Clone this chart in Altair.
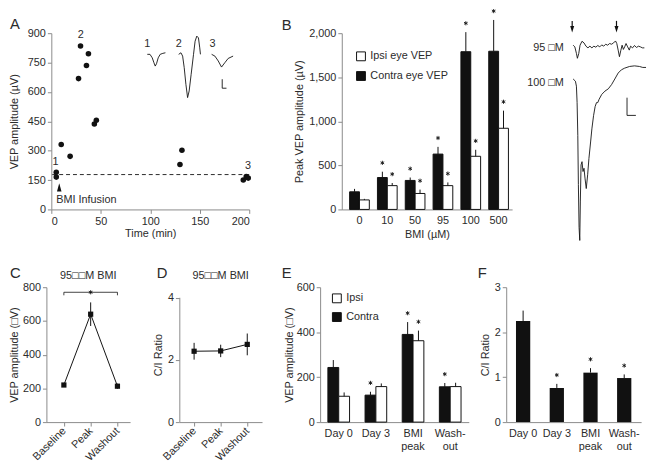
import altair as alt
import pandas as pd

FONT = "Liberation Sans"
INK = "#111111"
AXC = "#8a8a8a"
TXT = "#2b2b2b"
MU = "\u00b5"
BOX = "\u25a1"
STAR = "M0,-1L0,1M-0.87,-0.5L0.87,0.5M-0.87,0.5L0.87,-0.5"

# ---------------- Panel A data ----------------
a_time = [5, 5, 10, 19, 27.5, 29.5, 35.5, 37.5, 43.5, 45.5, 130, 132, 194, 197, 199]
a_amp = [190, 165, 332, 271, 668, 835, 735, 795, 436, 455, 229, 302, 150, 168, 160]
a_baseline = [178]
a_lab_text = ["1", "2", "3", "1", "2", "3"]
a_lab_t = [4.3, 29.7, 198.7, 97, 128.7, 163]
a_lab_v = [240, 893, 224, 846, 846, 846]
# inset traces (time-like x, amplitude-like y in panel units)
tr1_t = [97, 99.7, 102, 103.7, 105, 106.3, 108, 110, 112.7, 115.3]
tr1_v = [792, 792, 774, 749, 732, 744, 774, 792, 797, 800]
tr2_t = [128.7, 131, 132.7, 134.3, 136, 137.7, 139.3, 141.3, 143.7, 145.3, 147, 148.7, 150, 150.7]
tr2_v = [792, 800, 783, 724, 639, 571, 605, 690, 792, 859, 885, 876, 825, 792]
tr3_t = [162, 165.3, 168.7, 172, 175.3, 178.7, 183.7]
tr3_v = [792, 783, 758, 727, 749, 771, 783]
scl_t = [172.7, 172.7, 177]
scl_v = [665, 619, 619]
infusion_t = [8]
infusion_v = [113]

# ---------------- Panel B data ----------------
b_conc = ["0", "10", "50", "95", "100", "500"]
b_contra = [200, 362, 329, 628, 1790, 1795]
b_contra_err = [33, 66, 33, 82, 222, 355]
b_ipsi = [108, 270, 181, 270, 603, 921]
b_ipsi_err = [12, 30, 44, 36, 74, 200]
b_contra_star = [False, True, True, True, True, True]
b_ipsi_star = [False, True, True, True, True, True]

# ---------------- Trace panel data ----------------
t95_t = [0, 1.7, 3.3, 4.3, 5.7, 7, 9, 11, 13, 15, 17, 19, 21, 23, 25, 27, 29, 31, 33, 35, 37, 39,
         41, 43, 44.3, 45.7, 47, 48.3, 49.7, 51, 52.3, 53.7, 55, 57, 58.3, 60.3, 62.3, 64.3, 66.3,
         68.3, 70.3, 72.3]
t95_v = [0, -1.7, -8.3, -13.3, -8.3, 0, 4, 2.3, -1, -2.7, -1, -2.7, -1, -2, -0.3, -1.7, 0.3, -1, 1,
         0, 1.7, 1, 2.3, 4.3, 1.7, -5, -11.7, -5.7, 0, -4.3, -1.7, 1.7, -1, -5, -1, -2.7, -0.3,
         -2.3, -1, -1.7, -2.7, -2.7]
t100_t = [0, 2.3, 3.3, 4, 4.7, 5.3, 6, 6.7, 7.3, 8, 9, 10, 11, 12, 13.3, 14.7, 16, 17.7, 19, 20.7,
          22.3, 23.7, 25, 26.3, 29, 32.3, 35.7, 39, 42.3, 45.7, 49, 52.3, 57.3, 62.3, 67.3, 70.7, 74]
t100_v = [0, -2.3, -7.3, -24, -57.3, -107.3, -150.7, -164, -124, -87.3, -84, -94, -90.7, -100.7,
          -111.3, -97.3, -80.7, -64, -50.7, -37.3, -28, -24, -24, -20.7, -15.7, -12.3, -10, -5.7,
          0, 6, 9.3, 11, 12.7, 13.3, 12.7, 11.7, 11.7]
trace_offsets = {"95": 166.8, "100": 132.5}
stim_t = [-1, 44]
t_scale_t = [54.7, 54.7, 63.7]
t_scale_v = [113.5, 95.5, 95.5]

# ---------------- Panel C / D data ----------------
cd_cond = ["Baseline", "Peak", "Washout"]
c_vals = [220, 640, 213]
c_err = [10, 70, 15]
c_ticks = [0, 200, 400, 600, 800]
d_vals = [2.28, 2.29, 2.5]
d_err = [0.27, 0.2, 0.35]

# ---------------- Panel E / F data ----------------
ef_cats = ["Day 0", "Day 3", "BMI peak", "Wash-out"]
e_contra = [243, 120, 390, 157]
e_contra_err = [33, 15, 55, 17]
e_ipsi = [115, 158, 362, 158]
e_ipsi_err = [17, 14, 45, 17]
e_contra_star = [False, True, True, True]
e_ipsi_star = [False, False, True, False]
f_ratio = [2.25, 0.76, 1.10, 0.98]
f_err = [0.23, 0.09, 0.10, 0.08]
f_star = [False, True, True, True]


def letter(s, x, y):
    return alt.Chart(pd.DataFrame({"s": [s]})).mark_text(
        fontSize=15, font=FONT, color=TXT, align="left", baseline="alphabetic"
    ).encode(text="s:N", x=alt.value(x), y=alt.value(y))


def note(s, x, y, size=11):
    return alt.Chart(pd.DataFrame({"s": [s]})).mark_text(
        fontSize=size, font=FONT, color=TXT, align="center", baseline="middle"
    ).encode(text="s:N", x=alt.value(x), y=alt.value(y))


def star_mark(off=-9):
    return dict(shape=STAR, filled=False, stroke=INK, strokeWidth=0.9, size=18,
                opacity=1, yOffset=off)


def yenc(field, domain, axis):
    return alt.Y(field, scale=alt.Scale(domain=domain, nice=False), axis=axis)


# ================= Panel A =================
XA = alt.X("t:Q", scale=alt.Scale(domain=[0, 200], nice=False),
           axis=alt.Axis(values=[0, 50, 100, 150, 200], title="Time (min)", titlePadding=2))
YA = alt.Y("v:Q", scale=alt.Scale(domain=[0, 900], nice=False),
           axis=alt.Axis(values=[0, 150, 300, 450, 600, 750, 900], title=f"VEP amplitude ({MU}V)",
                         titleX=-37, titleBaseline="middle"))

a_pts = alt.Chart(pd.DataFrame({"t": a_time, "v": a_amp})).mark_circle(
    size=32, color=INK, opacity=1).encode(XA, YA)
a_dash = alt.Chart(pd.DataFrame({"v": a_baseline})).mark_rule(
    strokeDash=[4, 3], color=INK, strokeWidth=0.9).encode(YA)
rows = []
for name, ts, vs in [("tr1", tr1_t, tr1_v), ("tr2", tr2_t, tr2_v), ("tr3", tr3_t, tr3_v),
                     ("scl", scl_t, scl_v)]:
    for i, (t, v) in enumerate(zip(ts, vs)):
        rows.append({"id": name, "i": i, "t": t, "v": v})
a_traces = alt.Chart(pd.DataFrame(rows)).mark_line(color=INK, strokeWidth=0.9).encode(
    XA, YA, detail="id:N", order="i:Q")
a_labels = alt.Chart(pd.DataFrame({"t": a_lab_t, "v": a_lab_v, "s": a_lab_text})).mark_text(
    fontSize=11, font=FONT, color=TXT).encode(XA, YA, text="s:N")
a_arrow = alt.Chart(pd.DataFrame({"t": infusion_t, "v": infusion_v})).mark_point(
    shape="M0,-1L0.55,1L-0.55,1Z", filled=True, size=70, color=INK, opacity=1).encode(XA, YA)
a_inf = alt.Chart(pd.DataFrame({"t": [5], "v": [46], "s": ["BMI Infusion"]})).mark_text(
    fontSize=11, font=FONT, color=TXT, align="left", baseline="middle").encode(XA, YA, text="s:N")
panelA = alt.layer(a_dash, a_traces, a_pts, a_labels, a_arrow, a_inf,
                   letter("A", -42, -4)).properties(width=201, height=179)

# ================= Panel B =================
b_rows = []
for i, c in enumerate(b_conc):
    b_rows.append({"conc": c, "eye": "Contra eye VEP", "val": b_contra[i],
                   "top": b_contra[i] + b_contra_err[i], "star": b_contra_star[i]})
    b_rows.append({"conc": c, "eye": "Ipsi eye VEP", "val": b_ipsi[i],
                   "top": b_ipsi[i] + b_ipsi_err[i], "star": b_ipsi_star[i]})
b_df = pd.DataFrame(b_rows)
XB = alt.X("conc:N", sort=b_conc,
           scale=alt.Scale(paddingInner=0.292, paddingOuter=0.207, align=0.68),
           axis=alt.Axis(title=f"BMI ({MU}M)", labelAngle=0, ticks=False, labelPadding=5))
XOB = alt.XOffset("eye:N", scale=alt.Scale(domain=["Contra eye VEP", "Ipsi eye VEP"],
                                           paddingInner=0, paddingOuter=0))
AXB = alt.Axis(values=[0, 500, 1000, 1500, 2000], format=",d",
               title=f"Peak VEP amplitude ({MU}V)", titleX=-42.5, titleBaseline="middle")
YB = yenc("val:Q", [0, 2000], AXB)
b_bars = alt.Chart(b_df).mark_bar(stroke=INK, strokeWidth=1).encode(
    XB, XOB, YB,
    color=alt.Color("eye:N", scale=alt.Scale(domain=["Ipsi eye VEP", "Contra eye VEP"],
                                             range=["#ffffff", INK]),
                    legend=alt.Legend(title=None, orient="none", legendX=14, legendY=18,
                                      symbolType="square", symbolSize=81,
                                      symbolStrokeColor=INK, symbolStrokeWidth=1,
                                      labelFontSize=11, labelFont=FONT, labelColor=TXT,
                                      rowPadding=7, labelOffset=4, padding=0)))
b_err = alt.Chart(b_df).mark_rule(color=INK, strokeWidth=1).encode(
    XB, XOB, YB, y2="top:Q")
b_star = alt.Chart(b_df).transform_filter("datum.star").mark_point(**star_mark()).encode(
    XB, XOB, yenc("top:Q", [0, 2000], AXB))
panelB = alt.layer(b_bars, b_err, b_star, letter("B", -61, -3.5)).properties(width=173, height=179)

# ================= Trace panel =================
t_rows = []
for name, ts, vs in [("95", t95_t, t95_v), ("100", t100_t, t100_v)]:
    for i, (t, v) in enumerate(zip(ts, vs)):
        t_rows.append({"id": name, "i": i, "t": t, "y": v + trace_offsets[name]})
for i, (t, v) in enumerate(zip(t_scale_t, t_scale_v)):
    t_rows.append({"id": "scale", "i": i, "t": t, "y": v})
XT = alt.X("t:Q", scale=alt.Scale(domain=[-48, 74], nice=False), axis=None)
YT = alt.Y("y:Q", scale=alt.Scale(domain=[0, 179], nice=False), axis=None)
t_lines = alt.Chart(pd.DataFrame(t_rows)).mark_line(color=INK, strokeWidth=0.9).encode(
    XT, YT, detail="id:N", order="i:Q")
stim_df = pd.DataFrame({"t": stim_t, "y": [191.5] * len(stim_t), "y2": [183] * len(stim_t)})
t_shaft = alt.Chart(stim_df).mark_rule(color=INK, strokeWidth=1.2).encode(XT, YT, y2="y2:Q")
t_head = alt.Chart(stim_df).mark_point(shape="M-0.6,-1L0.6,-1L0,1Z", filled=True, size=45,
                                       color=INK, opacity=1).encode(
    XT, alt.Y("y2:Q", scale=alt.Scale(domain=[0, 179], nice=False), axis=None))
t_lab = alt.Chart(pd.DataFrame({"t": [-9.5, -9.5], "y": [163.5, 128.5],
                                "s": [f"95 {BOX}M", f"100 {BOX}M"]})).mark_text(
    fontSize=11, font=FONT, color=TXT, align="right", baseline="middle").encode(XT, YT, text="s:N")
panelT = alt.layer(t_lines, t_shaft, t_head, t_lab).properties(width=122, height=179)

# ================= Panel C =================
XC = alt.X("cond:N", sort=cd_cond, scale=alt.Scale(type="point", padding=0.5625, align=0.58),
           axis=alt.Axis(title=None, labelAngle=-45, labelAlign="right", labelBaseline="middle",
                         labelPadding=3))
AXC_Y = alt.Axis(values=c_ticks, title=f"VEP amplitude ({BOX}V)",
                 titleX=-32, titleBaseline="middle", labelOverlap=False)
YC = yenc("v:Q", [0, 800], AXC_Y)
c_df = pd.DataFrame({"cond": cd_cond, "v": c_vals, "lo": [v - e for v, e in zip(c_vals, c_err)],
                     "hi": [v + e for v, e in zip(c_vals, c_err)]})
c_line = alt.Chart(c_df).mark_line(color=INK, strokeWidth=1).encode(XC, YC)
c_err_r = alt.Chart(c_df).mark_rule(color=INK, strokeWidth=1).encode(
    XC, yenc("lo:Q", [0, 800], AXC_Y), y2="hi:Q")
c_pts = alt.Chart(c_df).mark_square(size=28, color=INK, opacity=1).encode(XC, YC)
brk = pd.DataFrame({"cond": ["Baseline", "Baseline", "Washout", "Washout"],
                    "v": [752, 770, 770, 752], "i": [0, 1, 2, 3]})
c_brk = alt.Chart(brk).mark_line(color=INK, strokeWidth=0.8).encode(XC, YC, order="i:Q")
c_star = alt.Chart(pd.DataFrame({"cond": ["Peak"], "v": [770]})).mark_point(
    **star_mark(0)).encode(XC, YC)
panelC = alt.layer(c_line, c_brk, c_err_r, c_pts, c_star,
                   note(f"95{BOX}{BOX}M BMI", 42.5, -11), letter("C", -37, -9)
                   ).properties(width=85, height=137)

# ================= Panel D =================
XD = alt.X("cond:N", sort=cd_cond, scale=alt.Scale(type="point", padding=0.556, align=0.5),
           axis=alt.Axis(title=None, labelAngle=-45, labelAlign="right", labelBaseline="middle",
                         labelPadding=3))
AXD_Y = alt.Axis(values=[0, 2, 4], title="C/I Ratio", domain=False,
                 titleX=-21.3, titleBaseline="middle", labelOverlap=False)
YD = yenc("v:Q", [0, 4.34], AXD_Y)
d_df = pd.DataFrame({"cond": cd_cond, "v": d_vals, "lo": [v - e for v, e in zip(d_vals, d_err)],
                     "hi": [v + e for v, e in zip(d_vals, d_err)]})
d_axis = alt.Chart(pd.DataFrame({"a": [0]})).mark_rule(color=AXC, strokeWidth=1).encode(
    x=alt.value(0.5), y=alt.YDatum(0), y2=alt.Y2Datum(4))
d_line = alt.Chart(d_df).mark_line(color=INK, strokeWidth=1).encode(XD, YD)
d_err_r = alt.Chart(d_df).mark_rule(color=INK, strokeWidth=1).encode(
    XD, yenc("lo:Q", [0, 4.34], AXD_Y), y2="hi:Q")
d_pts = alt.Chart(d_df).mark_square(size=28, color=INK, opacity=1).encode(XD, YD)
panelD = alt.layer(d_line, d_err_r, d_pts, d_axis,
                   note(f"95{BOX}{BOX}M BMI", 42, -11), letter("D", -23, -9)
                   ).properties(width=84, height=137)

# ================= Panel E =================
e_rows = []
for i, c in enumerate(ef_cats):
    e_rows.append({"cat": c, "side": "Contra", "val": e_contra[i],
                   "top": e_contra[i] + e_contra_err[i], "star": e_contra_star[i]})
    e_rows.append({"cat": c, "side": "Ipsi", "val": e_ipsi[i],
                   "top": e_ipsi[i] + e_ipsi_err[i], "star": e_ipsi_star[i]})
e_df = pd.DataFrame(e_rows)
LABEL_EXPR = ("datum.value == 'BMI peak' ? ['BMI', 'peak'] : "
              "datum.value == 'Wash-out' ? ['Wash-', 'out'] : datum.value")
XE = alt.X("cat:N", sort=ef_cats, scale=alt.Scale(paddingInner=0.417, paddingOuter=0.209),
           axis=alt.Axis(title=None, labelAngle=0, ticks=False, labelExpr=LABEL_EXPR,
                         labelLineHeight=13, labelPadding=6))
XOE = alt.XOffset("side:N", scale=alt.Scale(domain=["Contra", "Ipsi"], paddingInner=0,
                                            paddingOuter=0))
AXE_Y = alt.Axis(values=[0, 200, 400, 600], title=f"VEP amplitude ({BOX}V)",
                 titleX=-30.7, titleBaseline="middle")
YE = yenc("val:Q", [0, 600], AXE_Y)
e_bars = alt.Chart(e_df).mark_bar(stroke=INK, strokeWidth=1).encode(
    XE, XOE, YE,
    color=alt.Color("side:N", scale=alt.Scale(domain=["Ipsi", "Contra"], range=["#ffffff", INK]),
                    legend=alt.Legend(title=None, orient="none", legendX=11.5, legendY=5.8,
                                      symbolType="square", symbolSize=81,
                                      symbolStrokeColor=INK, symbolStrokeWidth=1,
                                      labelFontSize=11, labelFont=FONT, labelColor=TXT,
                                      rowPadding=6, labelOffset=4, padding=0)))
e_err = alt.Chart(e_df).mark_rule(color=INK, strokeWidth=1).encode(XE, XOE, YE, y2="top:Q")
e_star = alt.Chart(e_df).transform_filter("datum.star").mark_point(**star_mark()).encode(
    XE, XOE, yenc("top:Q", [0, 600], AXE_Y))
panelE = alt.layer(e_bars, e_err, e_star, letter("E", -39, -9)).properties(width=151, height=137)

# ================= Panel F =================
f_df = pd.DataFrame({"cat": ef_cats, "val": f_ratio,
                     "top": [v + e for v, e in zip(f_ratio, f_err)], "star": f_star})
XF = alt.X("cat:N", sort=ef_cats, scale=alt.Scale(paddingInner=0.577, paddingOuter=0.29),
           axis=alt.Axis(title=None, labelAngle=0, ticks=False, labelExpr=LABEL_EXPR,
                         labelLineHeight=13, labelPadding=6))
AXF_Y = alt.Axis(values=[0, 1, 2, 3], title="C/I Ratio", titleX=-21.3, titleBaseline="middle")
YF = yenc("val:Q", [0, 3], AXF_Y)
f_bars = alt.Chart(f_df).mark_bar(color=INK).encode(XF, YF)
f_err_r = alt.Chart(f_df).mark_rule(color=INK, strokeWidth=1).encode(XF, YF, y2="top:Q")
f_star_t = alt.Chart(f_df).transform_filter("datum.star").mark_point(**star_mark()).encode(
    XF, yenc("top:Q", [0, 3], AXF_Y))
panelF = alt.layer(f_bars, f_err_r, f_star_t, letter("F", -29, -9)).properties(width=137, height=137)


# ================= Layout =================
def spacer(w):
    return alt.Chart(pd.DataFrame({"z": [0]})).mark_point(opacity=0).encode(
        x=alt.value(0), y=alt.value(0)).properties(width=w, height=1)


RES = dict(x="independent", y="independent", color="independent", xOffset="independent")

top = alt.hconcat(spacer(5), panelA, spacer(94), panelB, spacer(14), panelT,
                  spacing=0, bounds="flush").resolve_scale(**RES)
bottom = alt.hconcat(panelC, spacer(50), panelD, spacer(59), panelE, spacer(38), panelF,
                     spacing=0, bounds="flush").resolve_scale(**RES)

chart = alt.vconcat(top, bottom, spacing=24,
                    padding={"left": 0, "top": -5, "right": 0, "bottom": 0}
                    ).resolve_scale(**RES).resolve_legend(color="independent").configure_axis(
    labelFont=FONT, titleFont=FONT, labelFontSize=11, titleFontSize=11, labelColor=TXT,
    titleColor=TXT, titleFontWeight="normal", domainColor=AXC, tickColor=AXC, tickSize=4,
    grid=False, labelPadding=2, labelOverlap=False
).configure_view(stroke=None).configure_text(font=FONT)

chart.save("out.html", embed_options={"renderer": "svg", "actions": False})
